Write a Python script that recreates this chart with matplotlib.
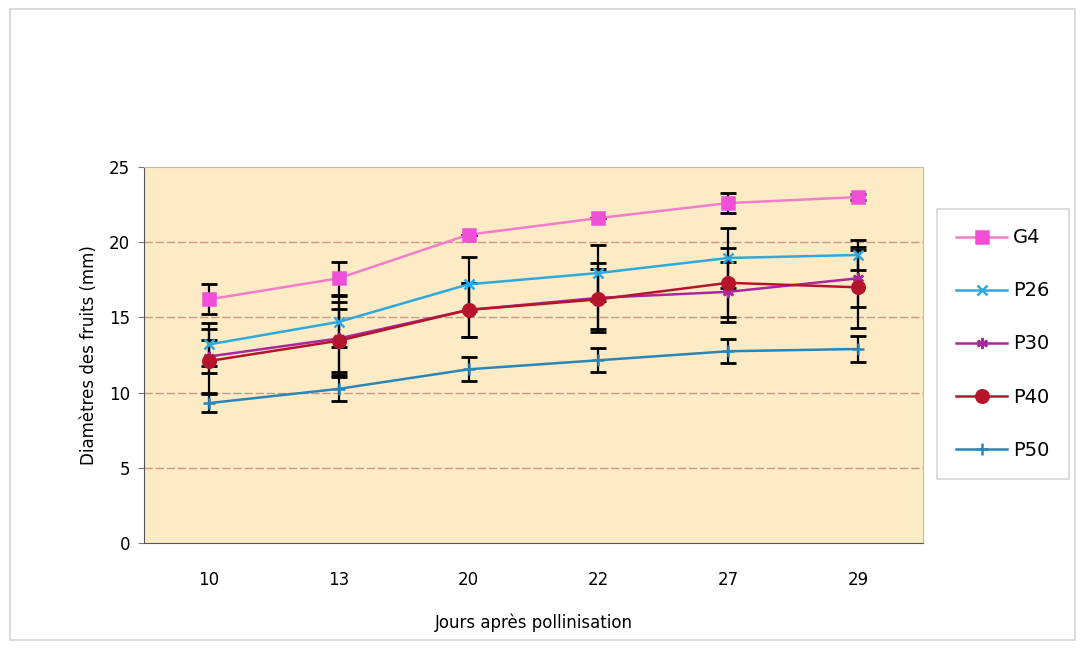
import numpy as np
import matplotlib.pyplot as plt
from matplotlib.patches import Rectangle

jours = ['10', '13', '20', '22', '27', '29']

g4 = [16.2, 17.6, 20.5, 21.6, 22.6, 23.0]
p26 = [13.2, 14.7, 17.2, 17.95, 18.95, 19.15]
p30 = [12.4, 13.6, 15.5, 16.3, 16.7, 17.6]
p40 = [12.1, 13.45, 15.5, 16.2, 17.3, 17.0]
p50 = [9.3, 10.25, 11.55, 12.15, 12.75, 12.9]

g4_err = [1.0, 1.1, 0.0, 0.0, 0.65, 0.2]
p26_err = [1.4, 1.7, 1.8, 1.85, 2.0, 1.0]
p30_err = [1.1, 2.4, 1.8, 2.3, 2.0, 1.9]
p40_err = [2.1, 2.1, 1.8, 2.0, 2.3, 2.7]
p50_err = [0.6, 0.8, 0.8, 0.8, 0.8, 0.85]

series = [
    ('G4', g4, g4_err, '#F27DCB', 's', '#F050D8', 8.5),
    ('P26', p26, p26_err, '#2EA9DF', 'x', '#2EA9DF', 7),
    ('P30', p30, p30_err, '#A8289E', (6, 2, 0), '#A8289E', 8),
    ('P40', p40, p40_err, '#B5152B', 'o', '#B5152B', 9),
    ('P50', p50, p50_err, '#2A86B8', '+', '#2A86B8', 8),
]

fig = plt.figure(figsize=(10.85, 6.49), dpi=100)
fig.patches.append(Rectangle((0.009, 0.014), 0.982, 0.972, transform=fig.transFigure,
                             fill=False, edgecolor='#D4D4D4', linewidth=1.2))

ax = fig.add_axes([0.1327, 0.1633, 0.718, 0.5794])
ax.set_facecolor('#FDEBC6')

x = np.arange(len(jours))
for name, vals, err, col, mk, mcol, ms in series:
    ax.errorbar(x, vals, yerr=err, fmt='none', ecolor='black', elinewidth=1.6,
                capsize=6, capthick=2, zorder=2)
for name, vals, err, col, mk, mcol, ms in series:
    ax.plot(x, vals, color=col, linewidth=1.8, marker=mk, markersize=ms,
            markerfacecolor=mcol, markeredgecolor=mcol, markeredgewidth=1.8,
            label=name, zorder=3)

ax.set_xlim(-0.5, 5.5)
ax.set_ylim(0, 25)
ax.set_xticks(x)
ax.set_xticklabels(jours)
ax.set_yticks([0, 5, 10, 15, 20, 25])
for yv in [5, 10, 15, 20]:
    ax.axhline(yv, color='#C49A85', linewidth=1, linestyle=(0, (6, 2)), zorder=1)

for s in ['top', 'right']:
    ax.spines[s].set_color('#BBBBBB')
for s in ['left', 'bottom']:
    ax.spines[s].set_color('#555555')
ax.tick_params(axis='x', length=0, pad=20, labelsize=12)
ax.tick_params(axis='y', length=4, color='#777777', labelsize=12, pad=6)

ax.set_xlabel('Jours après pollinisation', fontsize=12, labelpad=18)
ax.set_ylabel('Diamètres des fruits (mm)', fontsize=12, labelpad=8)

leg = ax.legend(loc='upper left', bbox_to_anchor=(0.8636, 0.678), bbox_transform=fig.transFigure,
                frameon=True, fancybox=False, edgecolor='#CCCCCC', fontsize=14,
                labelspacing=1.75, handlelength=2.6, handletextpad=0.3,
                borderpad=1.0, borderaxespad=0)
leg.get_frame().set_linewidth(1.2)

fig.savefig('out.png', dpi=100)
